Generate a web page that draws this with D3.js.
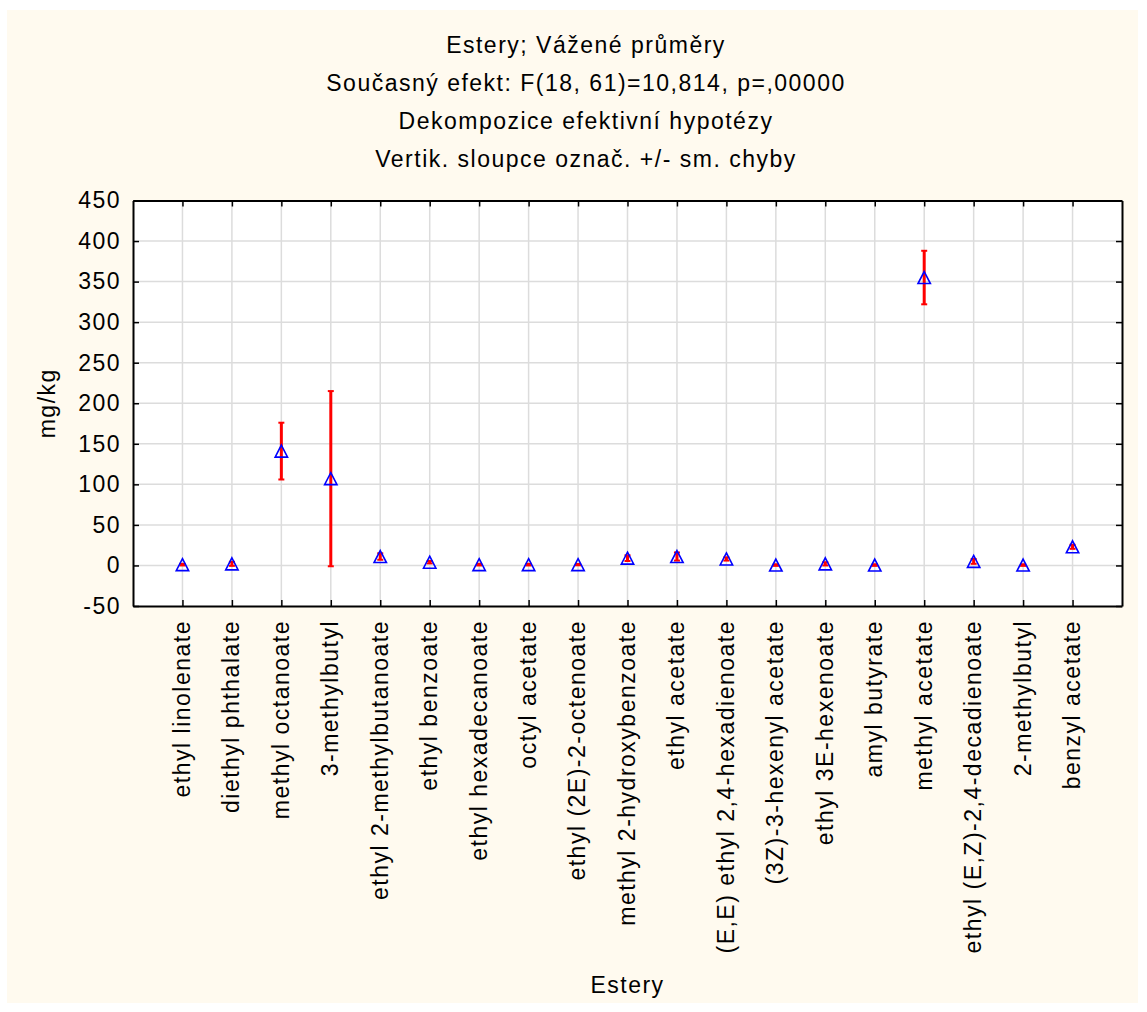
<!DOCTYPE html>
<html>
<head>
<meta charset="utf-8">
<script src="https://cdn.jsdelivr.net/npm/d3@7"></script>
<style>
  body { margin: 0; background: #fff; }
  svg { display: block; font-family: "Liberation Sans", Arial, sans-serif; }
  svg text { letter-spacing: 1.5px; }
</style>
</head>
<body>
<svg id="chart" width="1147" height="1012"></svg>
<script>
const titleLines = [
  "Estery; Vážené průměry",
  "Současný efekt: F(18, 61)=10,814, p=,00000",
  "Dekompozice efektivní hypotézy",
  "Vertik. sloupce označ. +/- sm. chyby"
];

const esters = [
  "ethyl linolenate", "diethyl phthalate", "methyl octanoate", "3-methylbutyl",
  "ethyl 2-methylbutanoate", "ethyl benzoate", "ethyl hexadecanoate", "octyl acetate",
  "ethyl (2E)-2-octenoate", "methyl 2-hydroxybenzoate", "ethyl acetate",
  "(E,E) ethyl 2,4-hexadienoate", "(3Z)-3-hexenyl acetate", "ethyl 3E-hexenoate",
  "amyl butyrate", "methyl acetate", "ethyl (E,Z)-2,4-decadienoate", "2-methylbutyl",
  "benzyl acetate"
];

// weighted means (mg/kg) and standard errors
const means = [1, 2, 141, 107, 11, 4, 1, 1, 1, 9, 11, 8, 0.5, 2, 0.5, 355, 5, 0.5, 23];
const stdErr = [1, 2.5, 35, 108, 4, 1.5, 1, 1, 0.8, 3.5, 5, 2, 1, 2, 1, 33, 3, 1, 2.5];

const yTicks = [-50, 0, 50, 100, 150, 200, 250, 300, 350, 400, 450];

const data = esters.map((name, i) => ({ name, mean: means[i], se: stdErr[i] }));

const svg = d3.select("#chart");
const margin = { top: 200.5, right: 25, bottom: 406, left: 133 };
const W = 1147, H = 1012;
const plotRight = W - margin.right;
const plotBottom = H - margin.bottom;
const fs = 23;

// cream panel
svg.append("rect")
  .attr("x", 7).attr("y", 10)
  .attr("width", 1131).attr("height", 993)
  .attr("fill", "#fffaef");

// titles
svg.append("g").selectAll("text")
  .data(titleLines)
  .join("text")
  .attr("x", 586)
  .attr("y", (d, i) => 53 + i * 38)
  .attr("text-anchor", "middle")
  .attr("font-size", fs)
  .attr("fill", "#000")
  .text(d => d);

const x = d3.scalePoint()
  .domain(esters)
  .range([margin.left, plotRight])
  .padding(1);

const y = d3.scaleLinear()
  .domain([-50, 450])
  .range([plotBottom, margin.top]);

// plot background
svg.append("rect")
  .attr("x", margin.left).attr("y", margin.top)
  .attr("width", plotRight - margin.left)
  .attr("height", plotBottom - margin.top)
  .attr("fill", "#fff");

// grid
svg.append("g")
  .selectAll("line")
  .data(yTicks.slice(1, -1))
  .join("line")
  .attr("x1", margin.left).attr("x2", plotRight)
  .attr("y1", d => y(d)).attr("y2", d => y(d))
  .attr("stroke", "#dcdcdc").attr("stroke-width", 1.5);

svg.append("g")
  .selectAll("line")
  .data(esters)
  .join("line")
  .attr("x1", d => x(d)).attr("x2", d => x(d))
  .attr("y1", margin.top).attr("y2", plotBottom)
  .attr("stroke", "#dcdcdc").attr("stroke-width", 1.5);

// axes (ticks pointing inward)
const styleAxis = g => {
  g.select(".domain").attr("stroke", "#000").attr("stroke-width", 2);
  g.selectAll(".tick line").attr("stroke", "#000").attr("stroke-width", 1.5);
};

svg.append("g")
  .attr("transform", `translate(${margin.left},0)`)
  .call(d3.axisLeft(y).tickValues(yTicks).tickFormat(d => String(d))
    .tickSize(-6).tickSizeOuter(0).tickPadding(12))
  .call(styleAxis)
  .call(g => g.selectAll("text").attr("font-size", fs).attr("fill", "#000")
    .attr("font-family", "Liberation Sans, Arial, sans-serif"));

svg.append("g")
  .attr("transform", `translate(${plotRight},0)`)
  .call(d3.axisRight(y).tickValues(yTicks).tickSize(-6).tickSizeOuter(0).tickFormat(""))
  .call(styleAxis);

svg.append("g")
  .attr("transform", `translate(0,${margin.top})`)
  .call(d3.axisTop(x).tickSize(-6).tickSizeOuter(0).tickFormat(""))
  .call(styleAxis);

const xAxis = svg.append("g")
  .attr("transform", `translate(0,${plotBottom})`)
  .call(d3.axisBottom(x).tickSize(-6).tickSizeOuter(0).tickPadding(0))
  .call(styleAxis);

xAxis.selectAll("text")
  .attr("font-size", fs)
  .attr("fill", "#000")
  .attr("font-family", "Liberation Sans, Arial, sans-serif")
  .attr("transform", "rotate(-90)")
  .attr("text-anchor", "end")
  .attr("dy", "0.3em")
  .attr("x", -14)
  .attr("y", 0);

// axis titles
svg.append("text")
  .attr("transform", `translate(55,${(margin.top + plotBottom) / 2}) rotate(-90)`)
  .attr("text-anchor", "middle")
  .attr("font-size", fs)
  .text("mg/kg");

svg.append("text")
  .attr("x", (margin.left + plotRight) / 2)
  .attr("y", 993)
  .attr("text-anchor", "middle")
  .attr("font-size", fs)
  .text("Estery");

// error bars
const bars = svg.append("g").attr("stroke", "#ff0000");
bars.append("g").selectAll("line")
  .data(data)
  .join("line")
  .attr("stroke-width", 3)
  .attr("x1", d => x(d.name)).attr("x2", d => x(d.name))
  .attr("y1", d => y(d.mean - d.se)).attr("y2", d => y(d.mean + d.se));

bars.append("g").selectAll("line")
  .data(data)
  .join("line")
  .attr("stroke-width", 2)
  .attr("x1", d => x(d.name) - 3).attr("x2", d => x(d.name) + 3)
  .attr("y1", d => y(d.mean + d.se)).attr("y2", d => y(d.mean + d.se));

bars.append("g").selectAll("line")
  .data(data)
  .join("line")
  .attr("stroke-width", 2)
  .attr("x1", d => x(d.name) - 3).attr("x2", d => x(d.name) + 3)
  .attr("y1", d => y(d.mean - d.se)).attr("y2", d => y(d.mean - d.se));

// triangle markers
const tri = "M0,-6L6.2,6L-6.2,6Z";
svg.append("g")
  .selectAll("path")
  .data(data)
  .join("path")
  .attr("transform", d => `translate(${x(d.name)},${y(d.mean)})`)
  .attr("d", tri)
  .attr("fill", "none")
  .attr("stroke", "#0000ff")
  .attr("stroke-width", 1.6);
</script>
</body>
</html>
